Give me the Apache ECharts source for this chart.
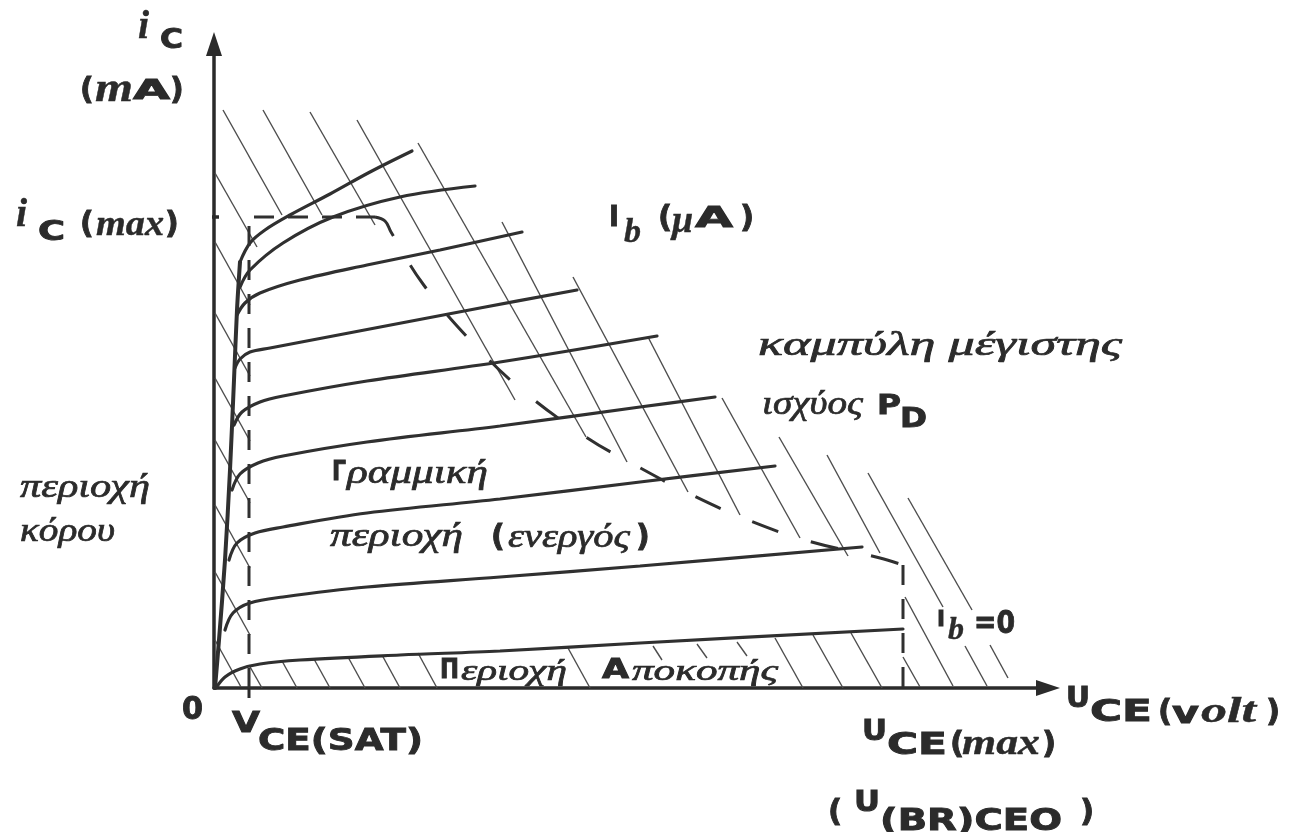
<!DOCTYPE html>
<html>
<head>
<meta charset="utf-8">
<script src="https://cdn.jsdelivr.net/npm/echarts@6/dist/echarts.min.js"></script>
<style>
  html, body { margin: 0; padding: 0; background: #ffffff; }
  #chart { width: 1289px; height: 832px; }
</style>
</head>
<body>
<div id="chart"></div>
<script>
// ---- Output characteristics of a BJT (U_CE in volt, i_C in mA, arbitrary units) ----

// Limits of the safe operating area
const vceSat = 3.5;   // V_CE(SAT)
const icMax = 47.1;   // i_C(max)
const uceMax = 68.9;  // U_CE(max) = U_(BR)CEO

// Saturation envelope rising from the origin
const saturationLine = [[0.1, 0], [0.5, 4.8], [1.1, 12.8], [1.6, 21.8], [2.0, 30.8], [2.3, 37.8], [2.6, 42.6]];

// One curve per base current I_b, largest first; the last one is I_b = 0
const curveIb1 = [[2.6, 42.6], [3.6, 44.5], [5.1, 45.8], [7.6, 47.3], [11.6, 49.4], [15.6, 51.6], [19.8, 53.7]];
const curveIb2 = [[2.6, 40.1], [3.6, 41.8], [6.9, 44.5], [11.9, 47.1], [18.6, 49.1], [26.1, 50.2]];
const curveIb3 = [[2.3, 37.3], [3.1, 38.5], [4.6, 39.5], [8.6, 40.8], [15.3, 42.3], [22.6, 43.8], [30.8, 45.6]];
const curveIb4 = [[2.1, 32.0], [2.6, 32.9], [3.6, 33.6], [5.6, 34.0], [11.9, 35.2], [26.6, 38.0], [36.3, 39.8]];
const curveIb5 = [[2.0, 26.3], [2.8, 27.6], [4.6, 28.6], [6.9, 29.2], [15.3, 30.7], [28.6, 32.6], [44.3, 35.2]];
const curveIb6 = [[1.8, 19.8], [2.6, 21.4], [4.4, 22.5], [6.9, 23.2], [15.3, 24.6], [28.6, 26.2], [42.6, 28.1], [50.1, 29.1]];
const curveIb7 = [[1.5, 12.8], [2.3, 14.5], [4.1, 15.5], [6.9, 16.1], [15.3, 17.5], [28.6, 18.9], [42.6, 20.6], [56.1, 22.2]];
const curveIb8 = [[1.1, 5.8], [1.9, 7.5], [3.6, 8.5], [6.9, 9.1], [15.3, 10.1], [28.6, 11.1], [42.6, 12.2], [64.8, 14.1]];
const curveIb0 = [[0.2, 0], [1.1, 1.1], [2.6, 1.9], [4.6, 2.4], [8.6, 2.8], [18.6, 3.3], [28.6, 3.7], [42.6, 4.5], [68.9, 5.9]];
const ibCurves = [curveIb1, curveIb2, curveIb3, curveIb4, curveIb5, curveIb6, curveIb7, curveIb8, curveIb0];

// Maximum power dissipation curve P_D
const pdCurve = [[16.1, 47.1], [17.1, 46.7], [17.7, 45.6], [20.9, 40.4], [25.6, 34.8], [30.8, 29.8], [37.2, 25.1],
                 [41.9, 22.4], [47.8, 19.3], [53.4, 16.8], [59.4, 14.7], [66.6, 13.0], [68.9, 12.3]];

// Hatching of the forbidden regions: [x1, y1, x2, y2]
const hatchUpper = [
  [0.9, 57.8, 6.8, 47.3], [4.9, 57.8, 10.8, 47.3], [9.6, 57.6, 16.1, 46.3], [14.3, 56.8, 30.1, 28.8],
  [20.4, 54.5, 37.2, 25.1], [28.8, 46.6, 41.3, 22.6], [35.9, 41.1, 47.4, 19.6], [43.4, 35.1, 52.6, 17.3],
  [50.8, 29.0, 58.6, 15.0], [56.5, 25.1, 63.4, 13.2], [61.3, 23.3, 66.6, 13.5], [69.1, 9.1, 73.9, 0.2],
  [65.4, 21.5, 72.9, 8.1], [75.1, 4.2, 77.3, 0.2], [69.4, 19.0, 75.8, 7.8], [77.6, 4.3, 79.4, 1.0],
  [68.9, 3.1, 70.6, 0.1]
];
const hatchSaturation = [
  [0.1, 51.5, 4.3, 44.1], [0.1, 44.6, 3.6, 38.3], [0.1, 37.5, 3.6, 31.2], [0.1, 31.0, 3.6, 24.7],
  [0.1, 24.8, 3.6, 18.5], [0.1, 18.3, 3.6, 12.0], [0.1, 11.6, 3.6, 5.3], [0.1, 4.8, 2.7, 0.1]
];
const hatchCutoff = [
  [3.5, 2.3, 4.8, 0], [6.8, 2.7, 8.3, 0], [10.0, 2.9, 11.6, 0], [13.4, 3.1, 15.1, 0], [16.8, 3.3, 18.6, 0],
  [20.4, 3.5, 22.3, 0], [35.4, 4.0, 37.6, 0], [43.9, 4.2, 44.8, 2.8], [48.3, 4.4, 49.3, 3.0],
  [52.3, 4.6, 53.3, 3.2], [56.1, 5.0, 58.9, 0], [59.9, 5.3, 62.9, 0], [63.7, 5.5, 66.8, 0]
];

// ---- drawing ----
const INK = '#2b2b2b';
const chart = echarts.init(document.getElementById('chart'), null, { renderer: 'canvas' });

const measureCtx = document.createElement('canvas').getContext('2d');
const FONTS = {
  sans: { fontFamily: 'DejaVu Sans', fontWeight: 'bold', fontStyle: 'normal', stroke: 0.9 },
  vr:   { fontFamily: 'Liberation Serif', fontWeight: 'bold', fontStyle: 'italic', stroke: 0.4 },
  gr:   { fontFamily: 'Liberation Serif', fontWeight: 'normal', fontStyle: 'italic', stroke: 0.7 }
};

// Text pieces: t = text, x = left, y = vertical middle, k = font kind, s = size, w = width to stretch to
const labels = [
  { t: 'i', x: 138, y: 28, k: 'vr', s: 40 },
  { t: 'C', x: 160, y: 41, k: 'sans', s: 26, w: 23 },
  { t: '(', x: 80, y: 91, k: 'sans', s: 30 },
  { t: 'm', x: 95, y: 91, k: 'vr', s: 40, w: 38 },
  { t: 'A', x: 133, y: 92, k: 'sans', s: 26, w: 37 },
  { t: ')', x: 170, y: 91, k: 'sans', s: 30 },

  { t: 'i', x: 16, y: 216, k: 'vr', s: 40 },
  { t: 'C', x: 38, y: 233, k: 'sans', s: 26, w: 27 },
  { t: '(', x: 80, y: 225, k: 'sans', s: 30 },
  { t: 'max', x: 96, y: 226, k: 'vr', s: 36, w: 68 },
  { t: ')', x: 165, y: 225, k: 'sans', s: 30 },

  { t: '0', x: 182, y: 711, k: 'sans', s: 32, w: 21 },
  { t: 'V', x: 232, y: 724, k: 'sans', s: 29, w: 28 },
  { t: 'CE(SAT)', x: 258, y: 742, k: 'sans', s: 31, w: 165 },

  { t: 'U', x: 862, y: 733, k: 'sans', s: 28, w: 25 },
  { t: 'CE', x: 887, y: 746, k: 'sans', s: 30, w: 60 },
  { t: '(', x: 950, y: 745, k: 'sans', s: 31 },
  { t: 'max', x: 962, y: 745, k: 'vr', s: 36, w: 78 },
  { t: ')', x: 1042, y: 745, k: 'sans', s: 31 },

  { t: 'U', x: 1066, y: 700, k: 'sans', s: 28, w: 24 },
  { t: 'CE', x: 1090, y: 713, k: 'sans', s: 30, w: 62 },
  { t: '(', x: 1158, y: 713, k: 'sans', s: 31 },
  { t: 'v', x: 1172, y: 715, k: 'sans', s: 30, w: 27 },
  { t: 'olt', x: 1201, y: 713, k: 'vr', s: 36, w: 55 },
  { t: ')', x: 1266, y: 713, k: 'sans', s: 31 },

  { t: '(', x: 828, y: 813, k: 'sans', s: 31 },
  { t: 'U', x: 854, y: 804, k: 'sans', s: 28, w: 26 },
  { t: '(BR)CEO', x: 880, y: 822, k: 'sans', s: 30, w: 182 },
  { t: ')', x: 1080, y: 813, k: 'sans', s: 31 },

  { t: 'I', x: 609, y: 218, k: 'sans', s: 29, w: 10 },
  { t: 'b', x: 624, y: 233, k: 'vr', s: 34 },
  { t: '(', x: 658, y: 219, k: 'sans', s: 31 },
  { t: 'μ', x: 672, y: 222, k: 'vr', s: 38 },
  { t: 'A', x: 695, y: 220, k: 'sans', s: 28, w: 38 },
  { t: ')', x: 740, y: 219, k: 'sans', s: 31 },

  { t: 'καμπύλη μέγιστης', x: 758, y: 346, k: 'gr', s: 34, w: 364 },
  { t: 'ισχύος', x: 762, y: 405, k: 'gr', s: 34, w: 101 },
  { t: 'P', x: 877, y: 407, k: 'sans', s: 27, w: 24 },
  { t: 'D', x: 900, y: 420, k: 'sans', s: 27, w: 27 },

  { t: 'περιοχή', x: 20, y: 488, k: 'gr', s: 34, w: 130 },
  { t: 'κόρου', x: 20, y: 532, k: 'gr', s: 34, w: 95 },

  { t: 'Γ', x: 332, y: 473, k: 'sans', s: 27, w: 14 },
  { t: 'ραμμική', x: 347, y: 474, k: 'gr', s: 34, w: 141 },
  { t: 'περιοχή', x: 330, y: 537, k: 'gr', s: 34, w: 133 },
  { t: '(', x: 491, y: 538, k: 'sans', s: 30 },
  { t: 'ενεργός', x: 508, y: 538, k: 'gr', s: 34, w: 122 },
  { t: ')', x: 636, y: 538, k: 'sans', s: 30 },

  { t: 'Π', x: 440, y: 671, k: 'sans', s: 26, w: 19 },
  { t: 'εριοχή', x: 461, y: 672, k: 'gr', s: 30, w: 106 },
  { t: 'Α', x: 602, y: 671, k: 'sans', s: 26, w: 27 },
  { t: 'ποκοπής', x: 632, y: 672, k: 'gr', s: 30, w: 146 },

  { t: 'I', x: 937, y: 620, k: 'sans', s: 22, w: 8 },
  { t: 'b', x: 948, y: 631, k: 'vr', s: 32 },
  { t: '=0', x: 974, y: 625, k: 'sans', s: 32, w: 41 }
];

function textElement(p) {
  const f = FONTS[p.k];
  measureCtx.font = `${f.fontStyle} ${f.fontWeight} ${p.s}px "${f.fontFamily}"`;
  const width = measureCtx.measureText(p.t).width;
  const scaleX = p.w ? p.w / width : 1;
  return {
    type: 'text', x: p.x, y: p.y, scaleX: scaleX, z: 100, silent: true,
    style: {
      text: p.t, fill: INK, stroke: INK, lineWidth: f.stroke,
      fontSize: p.s, fontFamily: f.fontFamily,
      fontWeight: f.fontWeight, fontStyle: f.fontStyle, align: 'left', verticalAlign: 'middle'
    }
  };
}

function segments(list) {
  return list.map(s => ({ coords: [[s[0], s[1]], [s[2], s[3]]] }));
}

const axisCommon = {
  type: 'value',
  axisTick: { show: false },
  axisLabel: { show: false },
  splitLine: { show: false },
  axisLine: {
    show: true, onZero: false,
    symbol: ['none', 'triangle'], symbolSize: [16, 24],
    lineStyle: { color: INK, width: 3.5 }
  }
};

const curveSeries = ibCurves.map(c => ({
  type: 'line', data: c, smooth: 0.35, showSymbol: false, silent: true, z: 5,
  lineStyle: { color: '#303030', width: 3.2, cap: 'round' }
}));

const dashStyle = { color: '#303030', width: 3, type: [20, 14] };

const option = {
  animation: false,
  backgroundColor: '#ffffff',
  grid: { left: 214, right: 241, top: 44, bottom: 144 },
  xAxis: Object.assign({}, axisCommon, { min: 0, max: 83.4 }),
  yAxis: Object.assign({}, axisCommon, { min: 0, max: 64.4 }),
  series: [
    {
      type: 'lines', coordinateSystem: 'cartesian2d', silent: true, z: 2,
      data: segments(hatchUpper.concat(hatchSaturation, hatchCutoff)),
      lineStyle: { color: '#4d4d4d', width: 1.4, opacity: 1, curveness: 0 }
    },
    {
      type: 'line', data: saturationLine, smooth: 0.3, showSymbol: false, silent: true, z: 6,
      lineStyle: { color: '#303030', width: 4, cap: 'round' }
    },
    ...curveSeries,
    {
      type: 'line', showSymbol: false, silent: true, z: 4, clip: false,
      data: [[vceSat, 0], [vceSat, icMax], [pdCurve[0][0], icMax]],
      lineStyle: dashStyle
    },
    {
      type: 'line', showSymbol: false, silent: true, z: 4, smooth: 0.4,
      data: pdCurve,
      lineStyle: { color: '#303030', width: 3, type: [28, 34] }
    },
    {
      type: 'line', showSymbol: false, silent: true, z: 4, clip: false,
      data: [[uceMax, pdCurve[pdCurve.length - 1][1]], [uceMax, -0.9]],
      lineStyle: dashStyle
    },
    // axis marks at i_C(max) and V_CE(SAT)
    {
      type: 'line', showSymbol: false, silent: true, z: 7, clip: false,
      data: [[-1.0, icMax], [0.5, icMax]],
      lineStyle: { color: INK, width: 3.5 }
    },
    {
      type: 'line', showSymbol: false, silent: true, z: 7, clip: false,
      data: [[vceSat, 0], [vceSat, -1.0]],
      lineStyle: { color: INK, width: 3 }
    }
  ],
  graphic: labels.map(textElement)
};

chart.setOption(option);
</script>
</body>
</html>
